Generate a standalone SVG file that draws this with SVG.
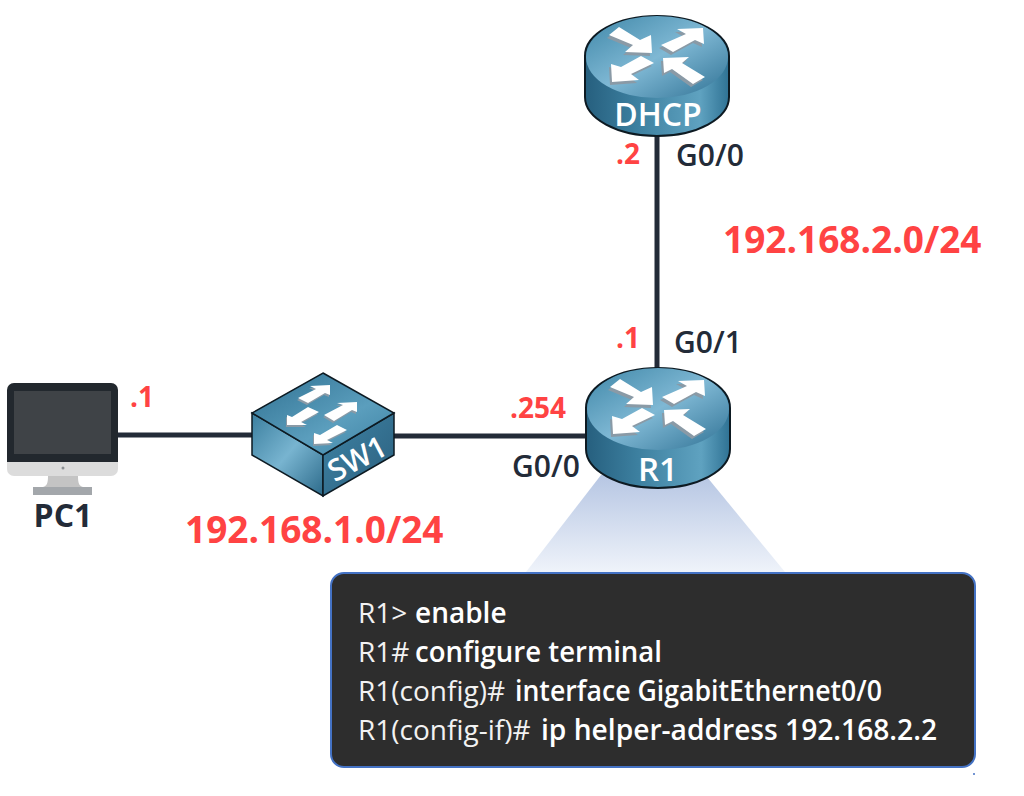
<svg xmlns="http://www.w3.org/2000/svg" xmlns:xlink="http://www.w3.org/1999/xlink" width="1024" height="796" viewBox="0 0 1024 796">
<style>
text{font-family:"Open Sans","Noto Sans","DejaVu Sans",sans-serif}
.lbl{font-size:30px;font-weight:600;fill:#232b38}
.ip{font-size:28px;font-weight:700;fill:#ff4343}
.net{font-size:37px;font-weight:700;fill:#ff4343}
.dev{font-size:33px;font-weight:600;fill:#fff;text-anchor:middle}
.cli{font-size:28px;fill:#f2f2f2}
.cli tspan{font-weight:600;fill:#fff}
.link{stroke:#232b38;fill:none;stroke-width:5}
.arr{fill:#fff}
.sh{fill:#8a9aa6}
</style>
<defs>
<linearGradient id="rt" x1="0" y1="0" x2="1" y2="1">
<stop offset="0" stop-color="#3f87a8"/><stop offset="0.5" stop-color="#7fb8d4"/><stop offset="1" stop-color="#2f7194"/>
</linearGradient>
<linearGradient id="rs" x1="0" y1="0" x2="1" y2="0">
<stop offset="0" stop-color="#265f7e"/><stop offset="0.35" stop-color="#3c7f9f"/><stop offset="0.8" stop-color="#5fa2c0"/><stop offset="1" stop-color="#2f7294"/>
</linearGradient>
<linearGradient id="st" x1="0" y1="0" x2="1" y2="1">
<stop offset="0" stop-color="#2f7091"/><stop offset="0.6" stop-color="#5b9ebd"/><stop offset="1" stop-color="#3d82a3"/>
</linearGradient>
<linearGradient id="sl" x1="0" y1="0" x2="1" y2="1">
<stop offset="0" stop-color="#3b7f9f"/><stop offset="0.5" stop-color="#78b4d0"/><stop offset="1" stop-color="#2c6a8a"/>
</linearGradient>
<linearGradient id="sr" x1="0" y1="0" x2="1" y2="1">
<stop offset="0" stop-color="#3f84a5"/><stop offset="1" stop-color="#2b5f7e"/>
</linearGradient>
<linearGradient id="cone" x1="0" y1="0" x2="0" y2="1">
<stop offset="0" stop-color="#b6c6e3"/><stop offset="1" stop-color="#eff3fa"/>
</linearGradient>
<g id="rarrows">
<polygon points="-48,-41 -38,-49 -17,-36 -6,-41 -5,-23 -32,-24 -24,-31"/>
<polygon points="4,-31 29,-42 20,-47 46,-48 47,-32 38,-36 16,-24"/>
<polygon points="-16,-20 -36,-9 -46,-12 -45,6 -18,4 -26,-2 -3,-13"/>
<polygon points="6,-18 32,-19 25,-13 48,1 36,8 15,-7 7,-3"/>
</g>
<g id="router">
<path d="M-72,-20 A72,40 0 0 1 72,-20 L72,21 A72,39 0 0 1 -72,21 Z" fill="url(#rs)" stroke="#0d1a22" stroke-width="2"/>
<ellipse cx="0" cy="-19" rx="71" ry="41" fill="url(#rt)"/>
<use href="#rarrows" xlink:href="#rarrows" class="sh" transform="translate(-2,3)"/>
<use href="#rarrows" xlink:href="#rarrows" class="arr"/>
</g>
<g id="sarrows">
<polygon points="298,398 316,389 310,386 330,385 330,395 325,393 308,403"/>
<polygon points="324,415 343,405 337,403 357,402 357,412 352,410 334,421"/>
<polygon points="308,407 319,412 301,422 307,425 287,425 287,415 292,417"/>
<polygon points="337,425 347,430 327,440 333,443 314,444 314,433 320,435"/>
</g>
</defs>
<rect width="1024" height="796" fill="#fff"/>
<g id="connectors">
<line class="link" x1="118" y1="435" x2="254" y2="435"/>
<line class="link" x1="392" y1="436" x2="588" y2="436"/>
<line class="link" x1="657" y1="134" x2="657" y2="370"/>
</g>
<polygon id="cone-shape" points="601,475 526,572 785,572 707,477" fill="url(#cone)"/>
<g id="PC1">
<rect x="7" y="383" width="111" height="93" rx="7" fill="#dcdcdc"/>
<path d="M7,462 V390 a7,7 0 0 1 7,-7 H111 a7,7 0 0 1 7,7 V462 Z" fill="#22282e"/>
<rect x="14" y="391" width="97" height="63" fill="#3f4347"/>
<circle cx="63" cy="468" r="1.5" fill="#8b8f93"/>
<path d="M48,476 H78 C78,483 79,486 83,487 H43 C47,486 48,483 48,476 Z" fill="#c4c4c4"/>
<rect x="33" y="487" width="59" height="8" fill="#a3a7ab"/>
<text class="dev" x="63" y="527" style="fill:#232b38;font-weight:700;font-size:32px">PC1</text>
</g>
<g id="SW1">
<polygon points="252,413 323,455 323,496 252,455" fill="url(#sl)" stroke="#0d1a22" stroke-width="1.5"/>
<polygon points="394,413 323,455 323,496 394,455" fill="url(#sr)" stroke="#0d1a22" stroke-width="1.5"/>
<polygon points="323,373 394,413 323,455 252,413" fill="url(#st)" stroke="#0d1a22" stroke-width="1.5"/>
<use href="#sarrows" xlink:href="#sarrows" class="sh" transform="translate(-1,2)"/>
<use href="#sarrows" xlink:href="#sarrows" class="arr"/>
<text class="dev" transform="translate(362,468) rotate(-28)" style="font-size:30px">SW1</text>
</g>
<g id="R1">
<use href="#router" xlink:href="#router" transform="translate(658,428)"/>
<text class="dev" x="658" y="481">R1</text>
</g>
<g id="DHCP">
<use href="#router" xlink:href="#router" transform="translate(657,76)"/>
<text class="dev" x="658" y="126" style="font-size:32px">DHCP</text>
</g>
<g id="labels">
<text class="ip" x="130" y="407">.1</text>
<text class="ip" x="510" y="418">.254</text>
<text class="lbl" x="512" y="477">G0/0</text>
<text class="ip" x="616" y="164">.2</text>
<text class="lbl" x="676" y="166">G0/0</text>
<text class="ip" x="616" y="348">.1</text>
<text class="lbl" x="674" y="353">G0/1</text>
<text class="net" x="723" y="253">192.168.2.0/24</text>
<text class="net" x="185" y="543">192.168.1.0/24</text>
</g>
<g id="terminal">
<rect x="331" y="573" width="644" height="194" rx="13" fill="#2d2d2d" stroke="#4472c4" stroke-width="2"/>
<text class="cli" x="358" y="623">R1&gt; <tspan x="415">enable</tspan></text>
<text class="cli" x="358" y="662">R1# <tspan x="415" textLength="247" lengthAdjust="spacingAndGlyphs">configure terminal</tspan></text>
<text class="cli" x="358" y="701">R1(config)# <tspan x="515" textLength="367" lengthAdjust="spacingAndGlyphs">interface GigabitEthernet0/0</tspan></text>
<text class="cli" x="358" y="740">R1(config-if)# <tspan x="541" textLength="396" lengthAdjust="spacingAndGlyphs">ip helper-address 192.168.2.2</tspan></text>
</g>
<circle cx="974" cy="774" r="1" fill="#4472c4"/>
</svg>
